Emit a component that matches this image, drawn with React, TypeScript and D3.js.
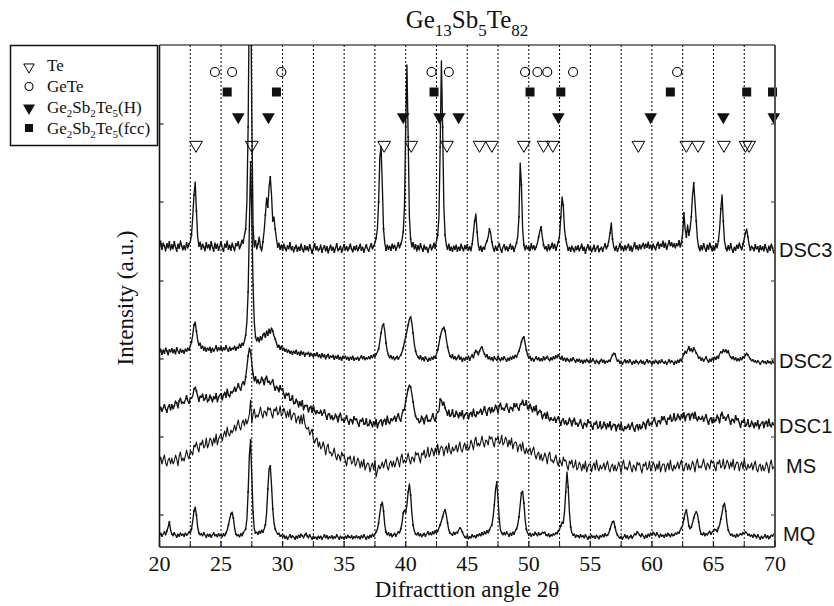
import React from "react";
import * as d3 from "d3";

// ---------- data ----------
const ANGLE_START = 20;
const ANGLE_STEP = 0.1;

const X_TICKS = [20, 25, 30, 35, 40, 45, 50, 55, 60, 65, 70];
const GRID_ANGLES = [22.5, 25, 27.5, 30, 32.5, 35, 37.5, 40, 42.5, 45, 47.5, 50, 52.5, 55, 57.5, 60, 62.5, 65, 67.5];
const Y_TICKS = [32, 110, 188, 266, 345, 423];

const SERIES_NAMES = ["DSC3", "DSC2", "DSC1", "MS", "MQ"];
const LABEL_LEVELS = [290, 179, 114, 74, 6];

const DSC3 = [
  300, 306, 298, 304, 301, 296, 303, 299, 305, 297,
  302, 298, 305, 300, 296, 303, 299, 306, 301, 297,
  301, 297, 304, 299, 303, 305, 312, 330, 352, 365,
  336, 310, 301, 305, 298, 303, 300, 296, 304, 299,
  302, 297, 305, 300, 296, 304, 299, 303, 297, 301,
  305, 299, 296, 303, 300, 306, 298, 302, 297, 304,
  300, 296, 303, 301, 305, 298, 302, 307, 304, 312,
  318, 345, 420, 560, 580, 430, 320, 300, 306, 298,
  303, 310, 300, 296, 305, 316, 332, 349, 340, 360,
  370, 352, 326, 330, 318, 308, 300, 304, 298, 302,
  297, 303, 299, 296, 301, 298, 304, 297, 300, 295,
  299, 302, 296, 300, 297, 303, 298, 295, 301, 297,
  300, 296, 302, 298, 294, 299, 303, 297, 300, 296,
  298, 302, 295, 299, 301, 296, 300, 294, 298, 302,
  297, 300, 295, 299, 303, 296, 298, 301, 295, 299,
  302, 297, 300, 296, 299, 303, 298, 295, 300, 297,
  301, 296, 299, 303, 297, 300, 295, 299, 302, 298,
  296, 300, 303, 298, 301, 304, 309, 318, 345, 390,
  400, 362, 318, 304, 297, 302, 298, 301, 297, 303,
  299, 302, 297, 300, 304, 299, 303, 307, 315, 340,
  420, 482, 410, 330, 308, 300, 304, 298, 302, 296,
  301, 297, 303, 299, 296, 302, 298, 300, 295, 299,
  302, 297, 300, 304, 299, 306, 312, 330, 400, 486,
  420, 340, 312, 302, 298, 303, 297, 300, 296, 301,
  298, 302, 296, 300, 297, 303, 299, 296, 301, 298,
  302, 297, 300, 296, 303, 314, 326, 333, 315, 302,
  297, 301, 296, 300, 298, 303, 306, 310, 318, 314,
  305, 299, 296, 301, 297, 300, 303, 298, 295, 300,
  302, 297, 300, 296, 299, 303, 298, 301, 296, 300,
  304, 310, 330, 384, 362, 318, 302, 297, 301, 298,
  300, 296, 303, 298, 301, 297, 300, 304, 310, 316,
  320, 310, 302, 298, 300, 296, 302, 297, 300, 304,
  299, 303, 297, 301, 305, 312, 330, 350, 342, 318,
  308, 302, 297, 300, 296, 301, 298, 295, 300, 297,
  301, 296, 299, 303, 297, 300, 294, 299, 302, 297,
  300, 295, 298, 302, 296, 299, 301, 295, 298, 300,
  296, 300, 303, 298, 301, 306, 314, 324, 308, 300,
  297, 301, 296, 299, 303, 298, 300, 296, 301, 297,
  300, 303, 297, 301, 296, 300, 304, 298, 301, 297,
  302, 298, 301, 304, 299, 303, 300, 305, 299, 302,
  298, 303, 300, 297, 302, 305, 299, 303, 301, 306,
  300, 304, 298, 302, 306, 301, 304, 300, 303, 299,
  303, 301, 306, 300, 304, 314, 334, 318, 310, 322,
  312, 318, 330, 352, 364, 345, 326, 308, 300, 296,
  301, 297, 303, 299, 296, 302, 298, 304, 300, 296,
  301, 297, 303, 299, 306, 318, 338, 352, 326, 306,
  299, 296, 301, 297, 303, 298, 295, 300, 297, 302,
  299, 304, 300, 297, 303, 308, 314, 318, 310, 302,
  297, 301, 299, 296, 302, 298, 300, 295, 301, 297,
  300, 296, 302, 298, 295, 301, 297, 303, 299, 294,
  298,
];

const DSC2 = [
  195, 198, 193, 197, 194, 199, 196, 192, 197, 195,
  198, 194, 197, 193, 199, 196, 194, 198, 195, 197,
  194, 198, 196, 199, 197, 201, 205, 212, 222, 225,
  216, 207, 202, 204, 199, 201, 197, 200, 196, 199,
  197, 200, 195, 199, 196, 198, 201, 196, 199, 197,
  200, 196, 199, 197, 201, 198, 196, 200, 197, 199,
  198, 201, 197, 200, 199, 203, 200, 204, 202, 206,
  212, 225, 255, 320, 385, 330, 262, 225, 210, 206,
  209, 205, 210, 207, 212, 214, 210, 216, 212, 218,
  214, 219, 216, 211, 208, 204, 200, 202, 198, 201,
  197, 199, 196, 198, 195, 197, 194, 196, 193, 196,
  194, 197, 193, 195, 192, 196, 193, 195, 191, 194,
  193, 195, 191, 194, 192, 190, 193, 191, 194, 190,
  192, 189, 193, 190, 192, 188, 191, 193, 189, 191,
  190, 192, 188, 191, 189, 192, 188, 190, 187, 191,
  189, 191, 188, 190, 187, 190, 188, 191, 187, 189,
  188, 190, 187, 189, 191, 188, 190, 187, 189, 188,
  190, 188, 191, 189, 192, 190, 193, 195, 198, 206,
  214, 221, 223, 216, 204, 196, 192, 189, 191, 188,
  190, 187, 189, 191, 188, 190, 192, 195, 199, 205,
  210, 216, 222, 228, 230, 224, 214, 203, 196, 192,
  190, 188, 191, 187, 189, 186, 190, 188, 186, 189,
  187, 190, 188, 191, 189, 193, 197, 203, 210, 215,
  218, 220, 216, 208, 200, 195, 191, 189, 192, 188,
  190, 187, 189, 192, 188, 190, 186, 189, 187, 190,
  188, 191, 187, 190, 192, 189, 194, 197, 195, 192,
  196, 199, 200, 196, 193, 190, 192, 188, 190, 187,
  189, 186, 190, 188, 187, 191, 188, 186, 189, 187,
  190, 188, 186, 189, 187, 190, 188, 191, 189, 192,
  190, 193, 196, 200, 205, 209, 210, 204, 197, 192,
  189, 191, 187, 189, 186, 188, 190, 187, 189, 186,
  188, 186, 190, 187, 189, 191, 188, 186, 189, 187,
  190, 188, 191, 189, 192, 190, 188, 191, 187, 189,
  186, 189, 187, 185, 188, 186, 189, 187, 185, 188,
  186, 188, 185, 187, 184, 187, 185, 188, 186, 184,
  187, 185, 188, 186, 184, 187, 185, 183, 186, 188,
  185, 187, 184, 186, 185, 187, 186, 189, 192, 194,
  193, 189, 186, 187, 184, 186, 183, 185, 187, 184,
  186, 184, 187, 185, 183, 186, 184, 187, 185, 183,
  185, 187, 184, 186, 183, 185, 187, 184, 186, 185,
  183, 186, 184, 187, 185, 183, 186, 184, 187, 185,
  184, 186, 183, 185, 187, 184, 186, 185, 183, 186,
  184, 187, 185, 188, 186, 190, 193, 196, 194, 197,
  200, 196, 198, 195, 199, 197, 194, 192, 189, 190,
  187, 189, 186, 188, 190, 187, 185, 188, 186, 189,
  187, 190, 188, 191, 189, 193, 195, 194, 197, 195,
  197, 194, 196, 192, 190, 188, 190, 187, 189, 186,
  188, 186, 189, 187, 190, 189, 192, 194, 192, 190,
  188, 186, 187, 185, 186, 184, 186, 185, 183, 185,
  186, 184, 185, 183, 186, 184, 185, 183, 186, 184,
  185,
];

const DSC1 = [
  137, 140, 136, 139, 142, 138, 135, 140, 142, 137,
  142, 138, 141, 146, 144, 139, 146, 149, 144, 145,
  144, 147, 151, 146, 144, 149, 149, 151, 158, 160,
  156, 151, 146, 151, 150, 153, 147, 148, 152, 145,
  147, 152, 149, 145, 150, 148, 153, 145, 150, 152,
  153, 147, 152, 155, 150, 158, 152, 150, 155, 154,
  156, 160, 156, 159, 163, 159, 157, 163, 165, 162,
  170, 180, 191, 199, 195, 184, 173, 166, 170, 164,
  167, 163, 165, 170, 167, 162, 168, 171, 165, 166,
  163, 165, 167, 161, 157, 161, 159, 155, 161, 157,
  158, 153, 149, 154, 152, 154, 147, 147, 151, 143,
  144, 148, 145, 140, 145, 141, 146, 137, 141, 142,
  141, 135, 139, 141, 135, 142, 136, 133, 136, 134,
  134, 137, 132, 134, 137, 132, 128, 133, 133, 128,
  131, 127, 129, 133, 130, 125, 131, 134, 127, 128,
  125, 128, 131, 126, 123, 128, 127, 123, 130, 127,
  128, 124, 121, 127, 126, 129, 123, 123, 128, 121,
  122, 127, 124, 120, 125, 122, 127, 119, 124, 126,
  127, 121, 126, 128, 123, 131, 125, 123, 128, 126,
  128, 131, 126, 130, 133, 128, 126, 133, 137, 137,
  146, 152, 158, 162, 160, 153, 145, 137, 131, 128,
  128, 124, 126, 131, 128, 123, 129, 132, 126, 127,
  126, 129, 133, 128, 126, 133, 135, 136, 148, 147,
  142, 145, 139, 136, 132, 137, 131, 132, 137, 130,
  131, 136, 133, 129, 134, 131, 136, 128, 132, 134,
  134, 128, 133, 135, 131, 138, 132, 130, 135, 133,
  135, 138, 133, 136, 140, 135, 132, 138, 139, 134,
  139, 135, 137, 142, 139, 134, 141, 144, 138, 139,
  137, 140, 143, 138, 135, 140, 139, 136, 143, 140,
  143, 139, 137, 143, 143, 147, 142, 142, 146, 138,
  139, 143, 139, 135, 140, 136, 141, 132, 135, 137,
  135, 128, 132, 134, 129, 135, 129, 126, 129, 127,
  127, 130, 125, 128, 130, 126, 122, 127, 128, 123,
  126, 122, 124, 129, 126, 121, 126, 129, 123, 124,
  121, 124, 127, 122, 119, 124, 123, 120, 127, 124,
  125, 121, 118, 124, 123, 126, 119, 120, 125, 118,
  120, 125, 122, 118, 123, 120, 125, 117, 121, 123,
  122, 116, 121, 123, 118, 124, 118, 116, 120, 118,
  120, 123, 118, 121, 124, 119, 116, 121, 122, 117,
  122, 118, 120, 125, 123, 118, 125, 128, 122, 124,
  123, 126, 129, 124, 121, 126, 126, 123, 130, 127,
  130, 126, 123, 129, 128, 132, 126, 127, 133, 126,
  128, 133, 130, 127, 132, 129, 134, 126, 131, 133,
  133, 127, 132, 134, 129, 135, 129, 126, 130, 128,
  128, 131, 126, 129, 132, 127, 123, 128, 129, 124,
  129, 125, 127, 132, 129, 124, 132, 135, 129, 130,
  127, 130, 132, 127, 123, 128, 127, 124, 131, 127,
  128, 124, 120, 126, 125, 128, 121, 122, 127, 120,
  121, 126, 123, 119, 124, 121, 126, 118, 122, 124,
  125, 119, 124, 126, 121, 128, 122, 120, 124, 122,
  124,
];

const MS = [
  86, 90, 83, 88, 92, 84, 81, 87, 89, 83,
  89, 83, 86, 92, 88, 81, 91, 95, 86, 89,
  86, 91, 97, 91, 88, 96, 95, 92, 102, 100,
  105, 99, 95, 104, 102, 107, 99, 101, 109, 99,
  103, 109, 107, 101, 109, 104, 113, 102, 108, 111,
  113, 106, 112, 116, 110, 120, 113, 111, 117, 114,
  117, 122, 116, 122, 127, 120, 117, 124, 127, 121,
  128, 123, 127, 133, 147, 124, 133, 138, 129, 132,
  130, 134, 140, 133, 129, 136, 135, 131, 140, 137,
  139, 133, 129, 138, 136, 140, 132, 134, 141, 131,
  133, 139, 135, 129, 136, 130, 138, 127, 131, 134,
  133, 124, 129, 131, 123, 132, 123, 133, 124, 119,
  118, 120, 112, 115, 118, 108, 104, 108, 109, 100,
  105, 98, 100, 105, 100, 92, 100, 103, 94, 95,
  91, 94, 99, 91, 87, 93, 91, 86, 95, 91,
  92, 86, 81, 90, 88, 91, 83, 85, 91, 81,
  83, 89, 86, 79, 86, 80, 88, 77, 81, 84,
  83, 75, 81, 84, 77, 87, 70, 76, 82, 78,
  81, 85, 79, 84, 88, 80, 77, 84, 86, 80,
  86, 80, 84, 90, 86, 80, 89, 93, 84, 87,
  84, 88, 94, 87, 83, 90, 89, 85, 95, 92,
  94, 89, 84, 94, 92, 97, 89, 92, 100, 90,
  93, 99, 96, 91, 99, 94, 103, 92, 98, 101,
  99, 91, 98, 101, 94, 104, 96, 93, 100, 96,
  98, 102, 95, 100, 105, 97, 95, 101, 104, 97,
  103, 97, 100, 107, 103, 97, 106, 110, 101, 104,
  101, 105, 111, 104, 100, 107, 106, 102, 111, 108,
  110, 104, 100, 109, 107, 111, 103, 105, 112, 102,
  104, 110, 107, 100, 107, 102, 109, 98, 103, 105,
  104, 95, 101, 103, 96, 105, 97, 93, 99, 94,
  96, 99, 92, 97, 100, 92, 88, 93, 95, 87,
  93, 86, 89, 94, 90, 83, 92, 95, 86, 87,
  84, 88, 92, 85, 81, 88, 85, 81, 90, 86,
  87, 81, 77, 86, 83, 87, 79, 81, 87, 77,
  79, 85, 82, 76, 83, 78, 86, 75, 80, 83,
  83, 75, 81, 84, 77, 87, 79, 76, 82, 78,
  80, 84, 77, 82, 86, 78, 75, 81, 83, 76,
  82, 76, 79, 85, 81, 74, 83, 87, 78, 80,
  77, 81, 86, 79, 75, 82, 80, 76, 85, 82,
  84, 78, 74, 83, 81, 85, 77, 79, 86, 76,
  79, 85, 82, 76, 83, 78, 86, 75, 80, 83,
  83, 75, 81, 84, 77, 87, 79, 76, 82, 78,
  81, 85, 78, 83, 87, 79, 76, 82, 84, 77,
  83, 77, 80, 86, 82, 75, 84, 88, 79, 81,
  79, 83, 88, 81, 77, 84, 82, 78, 87, 84,
  86, 80, 76, 85, 83, 87, 79, 81, 88, 78,
  81, 87, 84, 78, 85, 80, 88, 77, 82, 85,
  84, 76, 82, 85, 78, 88, 80, 77, 83, 79,
  80, 84, 77, 82, 86, 78, 75, 81, 83, 76,
  82, 76, 79, 85, 81, 74, 83, 87, 78, 80,
  78,
];

const MQ = [
  12, 14, 11, 13, 15, 12, 16, 20, 25, 17,
  13, 11, 14, 12, 10, 13, 11, 14, 12, 13,
  11, 14, 12, 13, 15, 14, 18, 26, 36, 40,
  32, 20, 14, 12, 13, 11, 14, 12, 10, 13,
  11, 13, 10, 12, 14, 11, 12, 10, 13, 11,
  12, 10, 13, 11, 14, 17, 22, 28, 33, 35,
  29, 19, 13, 11, 12, 10, 13, 11, 14, 16,
  18, 28, 55, 92, 107, 70, 35, 18, 14, 15,
  13, 16, 14, 17, 15, 18, 22, 34, 58, 78,
  81, 62, 38, 24, 18, 15, 13, 14, 11, 12,
  10, 12, 9, 11, 8, 10, 12, 9, 11, 10,
  8, 11, 9, 12, 10, 13, 11, 9, 12, 14,
  11, 9, 12, 10, 8, 11, 9, 10, 8, 11,
  9, 11, 8, 10, 12, 9, 11, 8, 10, 9,
  11, 8, 10, 9, 12, 10, 8, 11, 9, 10,
  8, 11, 9, 12, 10, 9, 11, 8, 10, 9,
  11, 9, 10, 8, 11, 9, 12, 10, 8, 11,
  9, 12, 10, 13, 11, 13, 15, 18, 24, 34,
  42, 45, 36, 22, 15, 12, 14, 11, 13, 10,
  12, 14, 11, 13, 15, 14, 18, 24, 34, 37,
  35, 42, 55, 63, 52, 34, 22, 16, 13, 12,
  14, 11, 13, 10, 12, 14, 11, 13, 15, 12,
  14, 12, 15, 13, 16, 14, 16, 19, 22, 26,
  30, 35, 37, 32, 24, 17, 14, 13, 12, 15,
  13, 15, 14, 17, 19, 18, 15, 12, 10, 9,
  11, 8, 10, 9, 12, 10, 11, 9, 12, 11,
  13, 11, 14, 12, 15, 13, 16, 14, 17, 20,
  22, 30, 42, 58, 65, 48, 28, 17, 14, 12,
  14, 12, 15, 13, 11, 14, 12, 15, 13, 16,
  18, 22, 30, 42, 54, 56, 44, 28, 18, 14,
  12, 14, 11, 13, 12, 15, 13, 11, 14, 12,
  13, 15, 14, 15, 12, 11, 13, 10, 12, 11,
  13, 12, 14, 13, 16, 18, 21, 25, 24, 35,
  55, 75, 60, 35, 20, 14, 12, 13, 10, 12,
  11, 9, 12, 10, 11, 9, 12, 10, 8, 11,
  9, 12, 10, 11, 9, 12, 10, 8, 11, 10,
  12, 10, 13, 11, 12, 14, 18, 22, 25, 26,
  20, 15, 12, 10, 9, 11, 8, 10, 12, 9,
  11, 8, 10, 12, 9, 11, 13, 12, 15, 14,
  12, 10, 13, 11, 9, 12, 10, 13, 11, 14,
  12, 15, 13, 11, 14, 12, 10, 13, 11, 12,
  10, 13, 11, 14, 12, 10, 13, 11, 12, 14,
  13, 15, 14, 17, 19, 22, 28, 34, 37, 30,
  21, 18, 20, 24, 29, 33, 35, 33, 25, 17,
  13, 12, 14, 11, 13, 12, 14, 16, 13, 15,
  16, 18, 17, 15, 19, 22, 28, 34, 41, 44,
  36, 24, 17, 14, 12, 13, 11, 12, 10, 13,
  11, 12, 13, 12, 14, 13, 15, 14, 12, 13,
  11, 12, 10, 13, 11, 9, 12, 10, 8, 11,
  9, 10, 12, 9, 11, 8, 10, 12, 11, 13,
  12,
];

// phase reference markers (2θ positions)
const TE_PEAKS = [22.97, 27.5, 38.25, 40.45, 43.35, 46.0, 47.0, 49.6, 51.2, 51.95, 58.9, 62.8, 63.75, 65.85, 67.6, 67.9];
const GETE_PEAKS = [24.5, 25.9, 29.9, 42.1, 43.5, 49.7, 50.7, 51.5, 53.6, 62.05];
const GST_H_PEAKS = [26.4, 28.85, 39.8, 42.75, 44.3, 52.4, 59.9, 65.8, 69.9];
const GST_FCC_PEAKS = [25.5, 29.5, 42.3, 50.1, 52.6, 61.5, 67.7, 69.8];

// ---------- layout ----------
const W = 834;
const H = 606;
const X0 = 159.5;
const X1 = 775;
const Y_TOP = 45;
const Y_BOT = 547;
const SERIF = "'Liberation Serif', 'Times New Roman', serif";
const SANS = "'Liberation Sans', Arial, sans-serif";
const INK = "#111";

const SERIES_DATA = [DSC3, DSC2, DSC1, MS, MQ];
const LABEL_DX = [4, 4, 4, 11, 8];

export default function App() {
  const x = d3.scaleLinear().domain([20, 70]).range([X0, X1]);
  const y = d3.scaleLinear().domain([0, 502]).range([Y_BOT, Y_TOP]);

  const line = d3
    .line<number>()
    .x((_, i) => x(ANGLE_START + i * ANGLE_STEP))
    .y((v) => y(v));

  const triDown = (size: number) => d3.symbol().type(d3.symbolTriangle).size(size)() as string;
  const triPath = triDown(70);
  const triPathSmall = triDown(48);
  const triPathLegend = triDown(62);

  const rowY = { gete: 72, fcc: 92, h: 117, te: 145 };

  return (
    <svg
      width={W}
      height={H}
      style={{ position: "absolute", left: 0, top: 0, background: "#fff" }}
      xmlns="http://www.w3.org/2000/svg"
    >
      <defs>
        <clipPath id="plotclip">
          <rect x={X0} y={Y_TOP} width={X1 - X0} height={Y_BOT - Y_TOP} />
        </clipPath>
      </defs>
      <rect x={0} y={0} width={W} height={H} fill="#fff" />

      {/* dotted grid */}
      {GRID_ANGLES.map((a) => (
        <line
          key={"g" + a}
          x1={x(a)}
          x2={x(a)}
          y1={Y_TOP}
          y2={Y_BOT}
          stroke="#000"
          strokeWidth={1}
          strokeDasharray="2,2"
        />
      ))}

      {/* traces */}
      <g clipPath="url(#plotclip)">
        {SERIES_DATA.map((vals, k) => (
          <path
            key={SERIES_NAMES[k]}
            d={line(vals) as string}
            fill="none"
            stroke={INK}
            strokeWidth={SERIES_NAMES[k] === "MS" ? 1.1 : 1.35}
            strokeLinejoin="round"
          />
        ))}
        {SERIES_DATA.map((vals, k) =>
          SERIES_NAMES[k] === "MS"
            ? null
            : vals.map((v, i) =>
                i % 2 === 0 ? (
                  <circle
                    key={SERIES_NAMES[k] + i}
                    cx={x(ANGLE_START + i * ANGLE_STEP)}
                    cy={y(v)}
                    r={1}
                    fill={INK}
                  />
                ) : null
              )
        )}
      </g>

      {/* reference markers */}
      {GETE_PEAKS.map((a, i) => (
        <circle key={"ge" + i} cx={x(a)} cy={rowY.gete} r={4.5} fill="none" stroke="#000" strokeWidth={1.1} />
      ))}
      {GST_FCC_PEAKS.map((a, i) => (
        <rect key={"fc" + i} x={x(a) - 4.5} y={rowY.fcc - 4.5} width={9} height={9} fill="#111" />
      ))}
      {GST_H_PEAKS.map((a, i) => (
        <path key={"h" + i} d={triPath} transform={`translate(${x(a)},${rowY.h}) rotate(180)`} fill="#111" />
      ))}
      {TE_PEAKS.map((a, i) => (
        <path
          key={"te" + i}
          d={triPath}
          transform={`translate(${x(a)},${rowY.te}) rotate(180)`}
          fill="none"
          stroke="#000"
          strokeWidth={1}
        />
      ))}

      {/* frame */}
      <line x1={X0} x2={X1} y1={Y_TOP} y2={Y_TOP} stroke="#000" strokeWidth={1.2} />
      <line x1={X0} x2={X1} y1={Y_BOT} y2={Y_BOT} stroke="#222" strokeWidth={1.6} />
      <line x1={X0} x2={X0} y1={Y_TOP} y2={Y_BOT} stroke="#111" strokeWidth={1.6} />
      <line x1={X1} x2={X1} y1={Y_TOP} y2={Y_BOT} stroke="#555" strokeWidth={2} />

      {/* x ticks */}
      {X_TICKS.map((t) => (
        <g key={"xt" + t}>
          <line x1={x(t)} x2={x(t)} y1={Y_BOT} y2={Y_BOT - 6} stroke="#222" strokeWidth={1.3} />
          <text x={x(t)} y={571} textAnchor="middle" fontFamily={SERIF} fontSize={22} fill="#111">
            {t}
          </text>
        </g>
      ))}
      {GRID_ANGLES.filter((a) => a % 5 !== 0).map((a) => (
        <line key={"mt" + a} x1={x(a)} x2={x(a)} y1={Y_BOT} y2={Y_BOT - 4} stroke="#222" strokeWidth={1} />
      ))}

      {/* y ticks (inward, both sides) */}
      {Y_TICKS.map((t) => (
        <g key={"yt" + t}>
          <line x1={X0} x2={X0 + 4} y1={y(t)} y2={y(t)} stroke="#222" strokeWidth={1.2} />
          <line x1={X1} x2={X1 - 4} y1={y(t)} y2={y(t)} stroke="#555" strokeWidth={1.2} />
        </g>
      ))}

      {/* series labels */}
      {SERIES_NAMES.map((n, k) => (
        <text key={"lb" + n} x={X1 + LABEL_DX[k]} y={y(LABEL_LEVELS[k])} fontFamily={SANS} fontSize={20} fill="#111">
          {n}
        </text>
      ))}

      {/* title */}
      <text x={467} y={28} textAnchor="middle" fontFamily={SERIF} fontSize={25} fill="#111">
        Ge
        <tspan fontSize={17} dy={8}>13</tspan>
        <tspan dy={-8}>Sb</tspan>
        <tspan fontSize={17} dy={8}>5</tspan>
        <tspan dy={-8}>Te</tspan>
        <tspan fontSize={17} dy={8}>82</tspan>
      </text>

      {/* axis titles */}
      <text x={467} y={597} textAnchor="middle" fontFamily={SERIF} fontSize={23} fill="#111">
        Difracttion angle 2θ
      </text>
      <text
        transform={`translate(133, 298) rotate(-90)`}
        textAnchor="middle"
        fontFamily={SERIF}
        fontSize={23}
        fill="#111"
      >
        Intensity (a.u.)
      </text>

      {/* legend */}
      <rect x={10.5} y={45.5} width={147} height={100} fill="#fff" stroke="#111" strokeWidth={1.5} />
      <path d={triPathSmall} transform="translate(29,67) rotate(180)" fill="none" stroke="#000" strokeWidth={1} />
      <text x={47} y={71} fontFamily={SERIF} fontSize={17} fill="#111">Te</text>
      <circle cx={29} cy={86.5} r={4} fill="none" stroke="#000" strokeWidth={1.1} />
      <text x={47} y={92} fontFamily={SERIF} fontSize={17} fill="#111">GeTe</text>
      <path d={triPathLegend} transform="translate(29,108) rotate(180)" fill="#111" />
      <text x={47} y={112.5} fontFamily={SERIF} fontSize={17} fill="#111">
        Ge<tspan fontSize={11} dy={4}>2</tspan>
        <tspan dy={-4}>Sb</tspan>
        <tspan fontSize={11} dy={4}>2</tspan>
        <tspan dy={-4}>Te</tspan>
        <tspan fontSize={11} dy={4}>5</tspan>
        <tspan dy={-4}>(H)</tspan>
      </text>
      <rect x={25} y={124} width={8} height={8} fill="#111" />
      <text x={47} y={133.5} fontFamily={SERIF} fontSize={17} fill="#111">
        Ge<tspan fontSize={11} dy={4}>2</tspan>
        <tspan dy={-4}>Sb</tspan>
        <tspan fontSize={11} dy={4}>2</tspan>
        <tspan dy={-4}>Te</tspan>
        <tspan fontSize={11} dy={4}>5</tspan>
        <tspan dy={-4}>(fcc)</tspan>
      </text>
    </svg>
  );
}
